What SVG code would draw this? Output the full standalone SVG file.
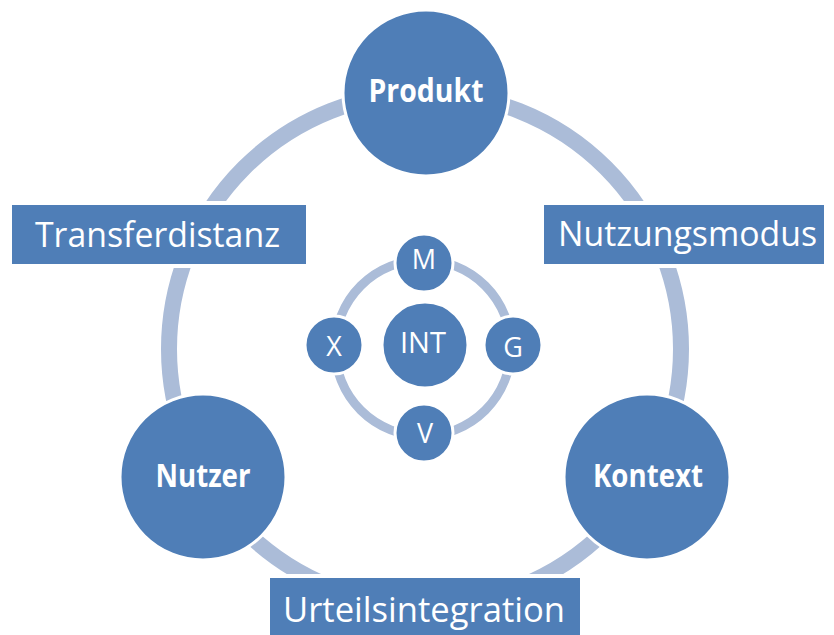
<svg xmlns="http://www.w3.org/2000/svg" width="834" height="635" viewBox="0 0 834 635">
  <style>
    .ring { fill: none; stroke: #abbcd8; }
    .node { fill: #4f7eb7; stroke: #ffffff; stroke-width: 3; }
    .box { fill: #4f7eb7; stroke: #ffffff; stroke-width: 4; }
    .lbl { fill: #ffffff; font-family: "Open Sans", "Noto Sans", "DejaVu Sans", sans-serif; }
    .big { font-size: 33px; font-weight: bold; text-anchor: middle; }
    .box-lbl { font-size: 35px; }
    .small { font-size: 27px; text-anchor: middle; }
  </style>

  <!-- connectors: outer and inner rings -->
  <g id="connectors">
    <circle class="ring" cx="425" cy="349" r="256" stroke-width="16"/>
    <circle class="ring" cx="423" cy="348" r="88" stroke-width="9"/>
  </g>

  <!-- outer labels -->
  <g id="transferdistanz">
    <rect class="box" x="10" y="203" width="298" height="63"/>
    <text class="lbl box-lbl" x="35" y="247" textLength="245" lengthAdjust="spacingAndGlyphs">Transferdistanz</text>
  </g>
  <g id="nutzungsmodus">
    <rect class="box" x="542" y="203" width="284" height="63"/>
    <text class="lbl box-lbl" x="558" y="246" textLength="259" lengthAdjust="spacingAndGlyphs">Nutzungsmodus</text>
  </g>
  <g id="urteilsintegration">
    <rect class="box" x="268" y="576" width="314" height="70"/>
    <text class="lbl box-lbl" x="283" y="622" textLength="282" lengthAdjust="spacingAndGlyphs">Urteilsintegration</text>
  </g>

  <!-- main nodes -->
  <g id="produkt">
    <circle class="node" cx="426" cy="93" r="83"/>
    <text class="lbl big" x="426" y="102" textLength="115" lengthAdjust="spacingAndGlyphs">Produkt</text>
  </g>
  <g id="nutzer">
    <circle class="node" cx="203" cy="477" r="83"/>
    <text class="lbl big" x="203" y="487" textLength="95" lengthAdjust="spacingAndGlyphs">Nutzer</text>
  </g>
  <g id="kontext">
    <circle class="node" cx="647" cy="477" r="83"/>
    <text class="lbl big" x="648" y="487" textLength="110" lengthAdjust="spacingAndGlyphs">Kontext</text>
  </g>

  <!-- inner nodes -->
  <g id="int">
    <circle class="node" cx="425" cy="345" r="43"/>
    <text class="lbl small" x="423" y="353" style="font-size:30px" textLength="46" lengthAdjust="spacingAndGlyphs">INT</text>
  </g>
  <g id="m">
    <circle class="node" cx="424" cy="263" r="29"/>
    <text class="lbl small" x="424" y="269">M</text>
  </g>
  <g id="x">
    <circle class="node" cx="334" cy="345" r="29"/>
    <text class="lbl small" x="334" y="356">X</text>
  </g>
  <g id="g">
    <circle class="node" cx="513" cy="345" r="29"/>
    <text class="lbl small" x="513" y="357">G</text>
  </g>
  <g id="v">
    <circle class="node" cx="424" cy="433" r="29"/>
    <text class="lbl small" x="425" y="443">V</text>
  </g>
</svg>
